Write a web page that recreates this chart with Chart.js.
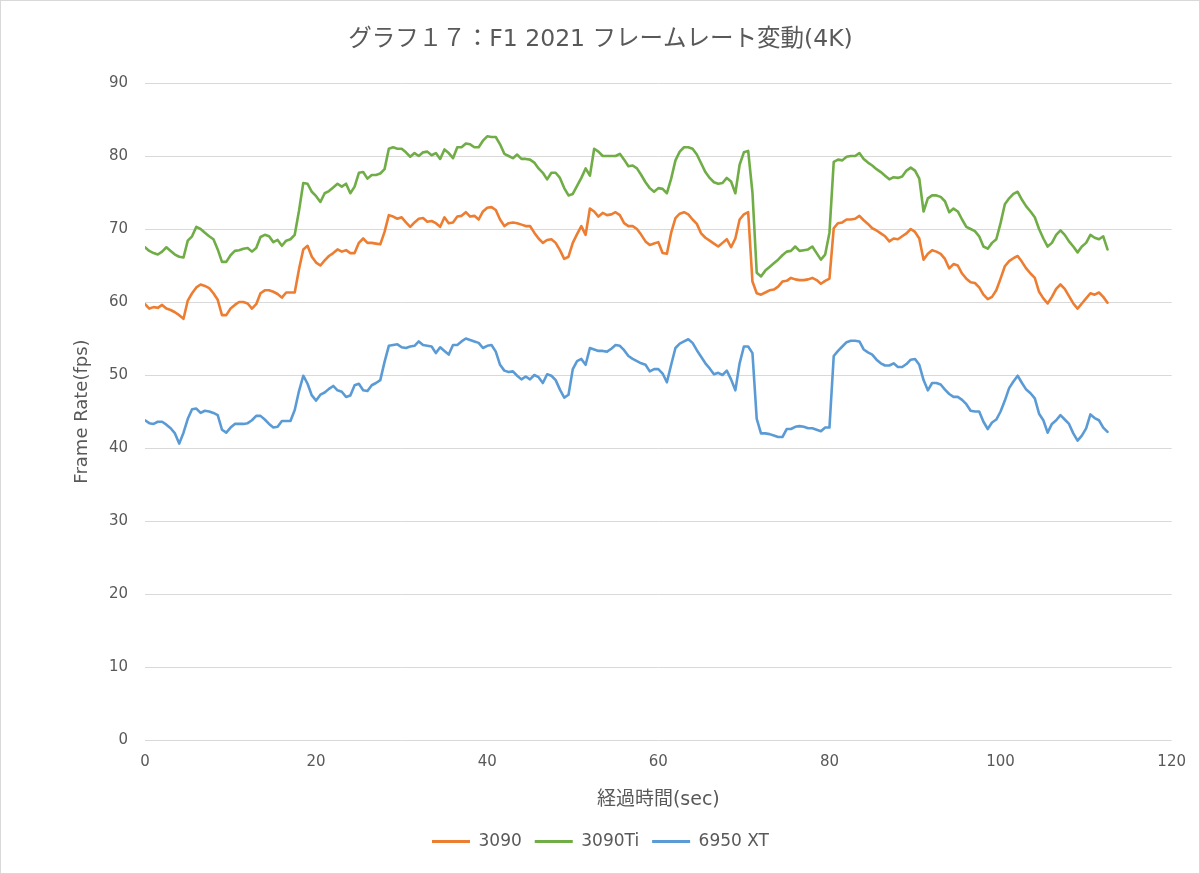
<!DOCTYPE html>
<html>
<head>
<meta charset="utf-8">
<script src="https://cdn.jsdelivr.net/npm/chart.js@4"></script>
<style>
  html, body { margin: 0; padding: 0; background: #fff; }
  #wrap { width: 1200px; height: 874px; box-sizing: border-box; border: 1px solid #d9d9d9; position: relative; }
  #c { display: block; }
</style>
</head>
<body>
<div id="wrap"><canvas id="c" width="1198" height="872"></canvas></div>
<script>
const chartTitle = 'グラフ１７：F1 2021 フレームレート変動(4K)';
const xTitle = '経過時間(sec)';
const yTitle = 'Frame Rate(fps)';
const seriesNames = ['3090', '3090Ti', '6950 XT'];
const seriesColors = ['#ED7D31', '#70AD47', '#5B9BD5'];

const time = [
  0,0.5,1,1.5,2,2.5,3,3.5,4,4.5,5,5.5,6,6.5,7,7.5,8,8.5,9,9.5,
  10,10.5,11,11.5,12,12.5,13,13.5,14,14.5,15,15.5,16,16.5,17,17.5,18,18.5,19,19.5,
  20,20.5,21,21.5,22,22.5,23,23.5,24,24.5,25,25.5,26,26.5,27,27.5,28,28.5,29,29.5,
  30,30.5,31,31.5,32,32.5,33,33.5,34,34.5,35,35.5,36,36.5,37,37.5,38,38.5,39,39.5,
  40,40.5,41,41.5,42,42.5,43,43.5,44,44.5,45,45.5,46,46.5,47,47.5,48,48.5,49,49.5,
  50,50.5,51,51.5,52,52.5,53,53.5,54,54.5,55,55.5,56,56.5,57,57.5,58,58.5,59,59.5,
  60,60.5,61,61.5,62,62.5,63,63.5,64,64.5,65,65.5,66,66.5,67,67.5,68,68.5,69,69.5,
  70,70.5,71,71.5,72,72.5,73,73.5,74,74.5,75,75.5,76,76.5,77,77.5,78,78.5,79,79.5,
  80,80.5,81,81.5,82,82.5,83,83.5,84,84.5,85,85.5,86,86.5,87,87.5,88,88.5,89,89.5,
  90,90.5,91,91.5,92,92.5,93,93.5,94,94.5,95,95.5,96,96.5,97,97.5,98,98.5,99,99.5,
  100,100.5,101,101.5,102,102.5,103,103.5,104,104.5,105,105.5,106,106.5,107,107.5,108,108.5,109,109.5,
  110,110.5,111,111.5,112,112.5
];

const fps3090 = [
  59.7,59.1,59.3,59.2,59.6,59.1,58.9,58.6,58.2,57.7,
  60.2,61.2,62.0,62.4,62.2,61.9,61.2,60.3,58.2,58.2,
  59.1,59.6,60.0,60.0,59.8,59.1,59.7,61.2,61.6,61.6,
  61.4,61.1,60.6,61.3,61.3,61.3,64.5,67.2,67.7,66.2,
  65.4,65.0,65.7,66.3,66.7,67.2,66.9,67.1,66.7,66.7,
  68.1,68.7,68.1,68.1,68.0,67.9,69.6,71.9,71.7,71.4,
  71.6,70.9,70.3,70.9,71.4,71.5,71.0,71.1,70.8,70.3,
  71.6,70.8,70.9,71.7,71.8,72.3,71.7,71.8,71.3,72.4,
  72.9,73.0,72.6,71.3,70.4,70.8,70.9,70.8,70.6,70.4,
  70.4,69.5,68.7,68.1,68.5,68.6,68.1,67.1,65.9,66.2,
  68.1,69.3,70.4,69.2,72.8,72.4,71.7,72.2,71.9,72.0,
  72.3,71.9,70.8,70.4,70.4,70.0,69.2,68.3,67.8,68.0,
  68.2,66.7,66.6,69.5,71.5,72.1,72.3,72.0,71.3,70.7,
  69.4,68.8,68.4,68.0,67.6,68.1,68.6,67.5,68.7,71.3,
  72.0,72.3,62.8,61.2,61.0,61.3,61.6,61.7,62.1,62.8,
  62.9,63.3,63.1,63.0,63.0,63.1,63.3,63.0,62.5,62.9,
  63.2,70.1,70.8,70.9,71.3,71.3,71.4,71.8,71.2,70.7,
  70.1,69.8,69.4,69.0,68.3,68.7,68.6,69.0,69.4,70.0,
  69.6,68.7,65.8,66.6,67.1,66.9,66.6,65.9,64.6,65.2,
  65.0,63.9,63.2,62.7,62.6,62.0,61.0,60.4,60.7,61.6,
  63.2,64.9,65.6,66.0,66.3,65.5,64.6,63.9,63.3,61.4,
  60.5,59.8,60.7,61.8,62.4,61.8,60.8,59.8,59.1,59.8,
  60.5,61.2,61.0,61.3,60.7,59.9
];

const fps3090Ti = [
  67.5,67.0,66.7,66.5,66.9,67.5,67.0,66.5,66.2,66.1,
  68.4,69.0,70.3,70.0,69.5,69.0,68.6,67.2,65.5,65.5,
  66.4,67.0,67.1,67.3,67.4,66.9,67.4,68.9,69.2,69.0,
  68.2,68.5,67.7,68.4,68.6,69.2,72.5,76.3,76.2,75.1,
  74.5,73.7,74.9,75.2,75.7,76.2,75.8,76.2,74.9,75.8,
  77.7,77.8,76.9,77.4,77.4,77.6,78.2,81.0,81.2,81.0,
  81.0,80.5,79.9,80.4,80.0,80.5,80.6,80.1,80.4,79.6,
  80.9,80.4,79.7,81.2,81.2,81.7,81.6,81.2,81.2,82.1,
  82.7,82.6,82.6,81.6,80.3,80.0,79.7,80.2,79.6,79.6,
  79.5,79.1,78.3,77.7,76.8,77.7,77.7,77.0,75.6,74.6,
  74.8,75.9,77.0,78.3,77.3,81.0,80.6,80.0,80.0,80.0,
  80.0,80.3,79.5,78.6,78.7,78.3,77.4,76.4,75.6,75.1,
  75.6,75.5,74.9,76.9,79.4,80.6,81.2,81.2,81.0,80.2,
  79.0,77.8,77.0,76.4,76.2,76.3,77.0,76.5,74.9,78.8,
  80.5,80.7,75.0,64.0,63.5,64.3,64.8,65.3,65.8,66.4,
  66.9,67.0,67.6,67.0,67.1,67.2,67.6,66.7,65.8,66.5,
  69.5,79.2,79.5,79.4,79.9,80.0,80.0,80.4,79.6,79.1,
  78.7,78.2,77.8,77.3,76.8,77.1,77.0,77.2,78.0,78.4,
  78.0,76.9,72.4,74.2,74.6,74.6,74.4,73.8,72.3,72.8,
  72.4,71.3,70.3,70.0,69.7,69.0,67.6,67.3,68.1,68.6,
  70.8,73.4,74.2,74.8,75.1,74.0,73.1,72.4,71.6,70.0,
  68.7,67.6,68.1,69.2,69.8,69.2,68.3,67.6,66.8,67.6,
  68.1,69.2,68.8,68.6,69.0,67.2
];

const fps6950XT = [
  43.8,43.4,43.3,43.6,43.6,43.2,42.7,42.0,40.6,42.1,
  44.0,45.3,45.4,44.8,45.1,45.0,44.8,44.5,42.5,42.1,
  42.8,43.3,43.3,43.3,43.4,43.8,44.4,44.4,43.9,43.3,
  42.8,42.9,43.7,43.7,43.7,45.2,47.8,49.9,48.8,47.2,
  46.5,47.3,47.6,48.1,48.5,47.9,47.7,47.0,47.2,48.6,
  48.8,47.9,47.8,48.6,48.9,49.3,51.8,54.0,54.1,54.2,
  53.8,53.7,53.9,54.0,54.6,54.1,54.0,53.9,53.0,53.8,
  53.3,52.8,54.1,54.1,54.6,55.0,54.8,54.6,54.4,53.7,
  54.0,54.1,53.2,51.4,50.6,50.4,50.5,49.9,49.4,49.8,
  49.4,50.0,49.7,48.9,50.1,49.9,49.3,48.0,46.9,47.3,
  50.8,51.9,52.2,51.4,53.7,53.5,53.3,53.3,53.2,53.6,
  54.1,54.0,53.4,52.6,52.2,51.9,51.6,51.4,50.5,50.8,
  50.8,50.2,49.0,51.4,53.7,54.3,54.6,54.9,54.4,53.4,
  52.5,51.6,50.9,50.1,50.3,50.0,50.6,49.4,47.9,51.6,
  53.9,53.9,53.0,44.0,42.0,42.0,41.9,41.7,41.5,41.5,
  42.6,42.6,42.9,43.0,42.9,42.7,42.7,42.5,42.3,42.8,
  42.8,52.6,53.3,53.9,54.5,54.7,54.7,54.6,53.5,53.1,
  52.8,52.1,51.6,51.3,51.3,51.6,51.1,51.1,51.5,52.1,
  52.2,51.4,49.3,47.9,48.9,48.9,48.7,48.0,47.4,47.0,
  47.0,46.6,46.0,45.1,45.0,45.0,43.6,42.6,43.5,43.9,
  45.0,46.5,48.2,49.1,49.9,48.9,48.0,47.5,46.8,44.7,
  43.8,42.1,43.3,43.8,44.5,43.9,43.3,42.0,41.0,41.7,
  42.7,44.6,44.1,43.8,42.8,42.2
];

const xMin = 0, xMax = 120, xStep = 20;
const yMin = 0, yMax = 90, yStep = 10;

const allSeries = [fps3090, fps3090Ti, fps6950XT];
const textColor = '#595959';
const fontFamily = '"DejaVu Sans", "Noto Sans CJK JP", sans-serif';

const datasets = allSeries.map((vals, i) => ({
  label: seriesNames[i],
  data: vals.map((v, k) => ({ x: time[k], y: v })),
  borderColor: seriesColors[i],
  backgroundColor: seriesColors[i],
  borderWidth: 2.6,
  pointRadius: 0,
  pointHoverRadius: 0,
  tension: 0,
  borderJoinStyle: 'round',
  borderCapStyle: 'round',
  fill: false,
  yAxisID: 'y'
}));

new Chart(document.getElementById('c'), {
  type: 'line',
  data: { datasets },
  options: {
    responsive: false,
    animation: false,
    devicePixelRatio: 1,
    layout: { padding: { left: 14, right: 13, top: 0, bottom: 13 } },
    plugins: {
      title: {
        display: true,
        text: chartTitle,
        color: textColor,
        font: { family: fontFamily, size: 23.5, weight: 'normal' },
        padding: { top: 25, bottom: 28.8 }
      },
      legend: {
        display: true,
        position: 'bottom',
        labels: {
          color: textColor,
          font: { family: fontFamily, size: 17 },
          boxWidth: 38,
          boxHeight: 3,
          padding: 13,
          generateLabels: (chart) => chart.data.datasets.map((ds, i) => ({
            text: ds.label,
            fillStyle: ds.borderColor,
            strokeStyle: ds.borderColor,
            lineWidth: 0,
            fontColor: textColor,
            hidden: false,
            datasetIndex: i
          }))
        }
      },
      tooltip: { enabled: false }
    },
    scales: {
      x: {
        type: 'linear',
        min: xMin, max: xMax,
        ticks: { stepSize: xStep, color: textColor, font: { family: fontFamily, size: 15 }, padding: 13 },
        grid: { display: false, drawTicks: false },
        border: { display: false },
        title: { display: true, text: xTitle, color: textColor, font: { family: fontFamily, size: 19 }, padding: { top: 0, bottom: 8.6 } },
        afterFit: (s) => { s.height = 80; }
      },
      y: {
        position: 'left',
        min: yMin, max: yMax,
        ticks: { stepSize: yStep, color: textColor, font: { family: fontFamily, size: 15 }, padding: 17 },
        grid: { color: '#d9d9d9', lineWidth: 1, drawTicks: false },
        border: { display: false },
        title: { display: true, text: yTitle, color: textColor, font: { family: fontFamily, size: 18 }, padding: { top: 56.5, bottom: 0 } },
        afterFit: (s) => { s.width = 130; }
      },
      yRightSpace: {
        position: 'right',
        display: true,
        grid: { display: false, drawTicks: false },
        border: { display: false },
        ticks: { display: false },
        afterFit: (s) => { s.width = 13; }
      }
    }
  }
});
</script>
</body>
</html>
